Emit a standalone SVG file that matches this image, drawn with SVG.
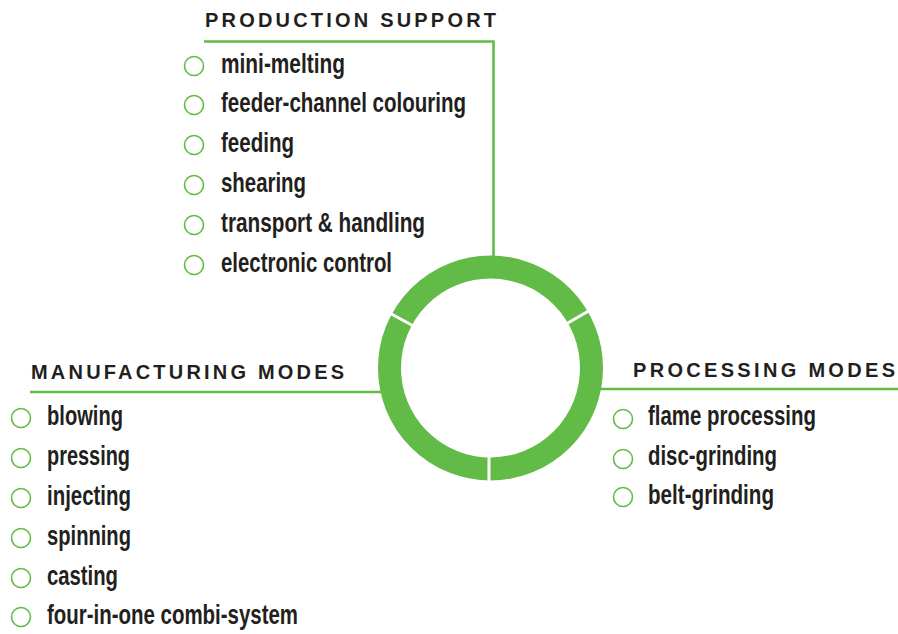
<svg xmlns="http://www.w3.org/2000/svg" width="898" height="634" viewBox="0 0 898 634">
<style>
.hd{font-family:"Liberation Sans",Arial,sans-serif;font-weight:bold;font-size:20px;fill:#231f20;}
.it{font-family:"Liberation Sans",Arial,sans-serif;font-weight:bold;font-size:28px;fill:#231f20;}
.bul{fill:none;stroke:#62bb46;stroke-width:1.6;}
.ln{stroke:#62bb46;stroke-width:2.6;fill:none;}
</style>
<rect width="898" height="634" fill="#ffffff"/>
<g id="connectors">
<polyline class="ln" points="204,41.5 493.5,41.5 493.5,258"/>
<line class="ln" x1="30" y1="392" x2="382" y2="392"/>
<line class="ln" x1="598" y1="389" x2="898" y2="389"/>
</g>
<g id="ring">
<circle cx="490.5" cy="368" r="101" fill="none" stroke="#62bb46" stroke-width="23"/>
<g stroke="#ffffff" stroke-width="3">
<line x1="489" y1="450" x2="489" y2="486"/>
<line x1="412.5" y1="325.5" x2="380.5" y2="308"/>
<line x1="567" y1="323.5" x2="598" y2="305.5"/>
</g>
</g>
<g id="production-support">
<text class="hd" x="205" y="27" textLength="291" lengthAdjust="spacing">PRODUCTION SUPPORT</text>
<circle class="bul" cx="194" cy="66" r="9.5"/>
<text class="it" x="221" y="73" textLength="124" lengthAdjust="spacingAndGlyphs">mini-melting</text>
<circle class="bul" cx="194" cy="105" r="9.5"/>
<text class="it" x="221" y="112" textLength="245" lengthAdjust="spacingAndGlyphs">feeder-channel colouring</text>
<circle class="bul" cx="194" cy="145" r="9.5"/>
<text class="it" x="221" y="152" textLength="73" lengthAdjust="spacingAndGlyphs">feeding</text>
<circle class="bul" cx="194" cy="185" r="9.5"/>
<text class="it" x="221" y="192" textLength="85" lengthAdjust="spacingAndGlyphs">shearing</text>
<circle class="bul" cx="194" cy="225" r="9.5"/>
<text class="it" x="221" y="232" textLength="204" lengthAdjust="spacingAndGlyphs">transport &amp; handling</text>
<circle class="bul" cx="194" cy="265" r="9.5"/>
<text class="it" x="221" y="272" textLength="171" lengthAdjust="spacingAndGlyphs">electronic control</text>
</g>
<g id="manufacturing-modes">
<text class="hd" x="31" y="379" textLength="313" lengthAdjust="spacing">MANUFACTURING MODES</text>
<circle class="bul" cx="21" cy="418" r="9.5"/>
<text class="it" x="47" y="425" textLength="76" lengthAdjust="spacingAndGlyphs">blowing</text>
<circle class="bul" cx="21" cy="458" r="9.5"/>
<text class="it" x="47" y="465" textLength="83" lengthAdjust="spacingAndGlyphs">pressing</text>
<circle class="bul" cx="21" cy="498" r="9.5"/>
<text class="it" x="47" y="505" textLength="84" lengthAdjust="spacingAndGlyphs">injecting</text>
<circle class="bul" cx="21" cy="538" r="9.5"/>
<text class="it" x="47" y="545" textLength="84" lengthAdjust="spacingAndGlyphs">spinning</text>
<circle class="bul" cx="21" cy="578" r="9.5"/>
<text class="it" x="47" y="585" textLength="71" lengthAdjust="spacingAndGlyphs">casting</text>
<circle class="bul" cx="21" cy="617" r="9.5"/>
<text class="it" x="47" y="624" textLength="251" lengthAdjust="spacingAndGlyphs">four-in-one combi-system</text>
</g>
<g id="processing-modes">
<text class="hd" x="633" y="377" textLength="262" lengthAdjust="spacing">PROCESSING MODES</text>
<circle class="bul" cx="623" cy="419" r="9.5"/>
<text class="it" x="648" y="425" textLength="168" lengthAdjust="spacingAndGlyphs">flame processing</text>
<circle class="bul" cx="623" cy="459" r="9.5"/>
<text class="it" x="648" y="465" textLength="129" lengthAdjust="spacingAndGlyphs">disc-grinding</text>
<circle class="bul" cx="623" cy="497" r="9.5"/>
<text class="it" x="648" y="504" textLength="126" lengthAdjust="spacingAndGlyphs">belt-grinding</text>
</g>
</svg>
